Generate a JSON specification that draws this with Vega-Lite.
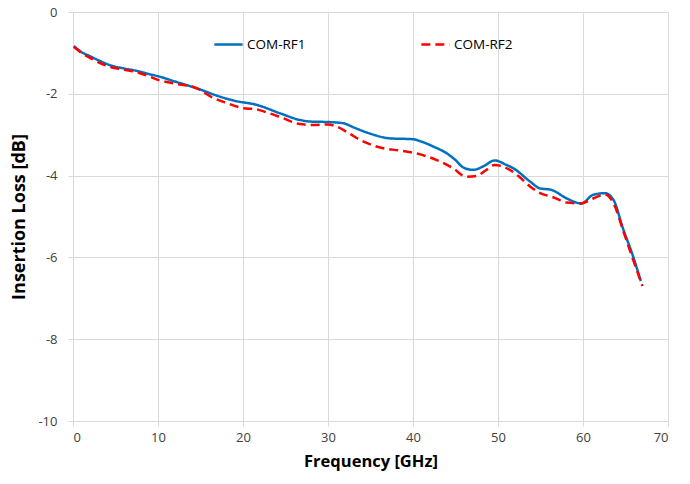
{
  "$schema": "https://vega.github.io/schema/vega-lite/v6.json",
  "width": 595,
  "height": 409,
  "autosize": {"type": "none"},
  "padding": {"left": 73, "top": 12, "right": 22, "bottom": 63},
  "background": "white",
  "config": {
    "view": {"stroke": null},
    "font": "Open Sans",
    "axis": {
      "gridColor": "#d9d9d9",
      "gridWidth": 1,
      "domainColor": "#d9d9d9",
      "ticks": true,
      "tickColor": "#d9d9d9",
      "tickSize": 5,
      "labelColor": "#404040",
      "labelFont": "Open Sans",
      "labelFontSize": 13,
      "titleFont": "Open Sans",
      "titleFontWeight": "bold",
      "titleColor": "#000000"
    }
  },
  "datasets": {
    "loss": [
      {"f": 0.1, "loss": -0.83, "s": "COM-RF1"},
      {"f": 1, "loss": -0.98, "s": "COM-RF1"},
      {"f": 2, "loss": -1.08, "s": "COM-RF1"},
      {"f": 3, "loss": -1.18, "s": "COM-RF1"},
      {"f": 4.35, "loss": -1.30, "s": "COM-RF1"},
      {"f": 6, "loss": -1.38, "s": "COM-RF1"},
      {"f": 7.5, "loss": -1.44, "s": "COM-RF1"},
      {"f": 9, "loss": -1.52, "s": "COM-RF1"},
      {"f": 10, "loss": -1.57, "s": "COM-RF1"},
      {"f": 12, "loss": -1.70, "s": "COM-RF1"},
      {"f": 14.9, "loss": -1.89, "s": "COM-RF1"},
      {"f": 17, "loss": -2.05, "s": "COM-RF1"},
      {"f": 19, "loss": -2.17, "s": "COM-RF1"},
      {"f": 21.6, "loss": -2.27, "s": "COM-RF1"},
      {"f": 24.4, "loss": -2.48, "s": "COM-RF1"},
      {"f": 26.7, "loss": -2.64, "s": "COM-RF1"},
      {"f": 28, "loss": -2.68, "s": "COM-RF1"},
      {"f": 30, "loss": -2.69, "s": "COM-RF1"},
      {"f": 31.8, "loss": -2.72, "s": "COM-RF1"},
      {"f": 33, "loss": -2.82, "s": "COM-RF1"},
      {"f": 34.9, "loss": -2.97, "s": "COM-RF1"},
      {"f": 37.3, "loss": -3.09, "s": "COM-RF1"},
      {"f": 40, "loss": -3.11, "s": "COM-RF1"},
      {"f": 41, "loss": -3.17, "s": "COM-RF1"},
      {"f": 42.4, "loss": -3.29, "s": "COM-RF1"},
      {"f": 44, "loss": -3.46, "s": "COM-RF1"},
      {"f": 45, "loss": -3.62, "s": "COM-RF1"},
      {"f": 45.9, "loss": -3.80, "s": "COM-RF1"},
      {"f": 47.1, "loss": -3.86, "s": "COM-RF1"},
      {"f": 48.3, "loss": -3.77, "s": "COM-RF1"},
      {"f": 49.6, "loss": -3.63, "s": "COM-RF1"},
      {"f": 51, "loss": -3.74, "s": "COM-RF1"},
      {"f": 51.8, "loss": -3.82, "s": "COM-RF1"},
      {"f": 53.8, "loss": -4.15, "s": "COM-RF1"},
      {"f": 54.9, "loss": -4.31, "s": "COM-RF1"},
      {"f": 56.3, "loss": -4.35, "s": "COM-RF1"},
      {"f": 58.1, "loss": -4.56, "s": "COM-RF1"},
      {"f": 59.8, "loss": -4.68, "s": "COM-RF1"},
      {"f": 61.2, "loss": -4.47, "s": "COM-RF1"},
      {"f": 62.6, "loss": -4.43, "s": "COM-RF1"},
      {"f": 63.6, "loss": -4.60, "s": "COM-RF1"},
      {"f": 64.7, "loss": -5.29, "s": "COM-RF1"},
      {"f": 65.9, "loss": -5.98, "s": "COM-RF1"},
      {"f": 66.8, "loss": -6.58, "s": "COM-RF1"},
      {"f": 0.1, "loss": -0.85, "s": "COM-RF2"},
      {"f": 1, "loss": -1.00, "s": "COM-RF2"},
      {"f": 2, "loss": -1.12, "s": "COM-RF2"},
      {"f": 3, "loss": -1.23, "s": "COM-RF2"},
      {"f": 4.35, "loss": -1.34, "s": "COM-RF2"},
      {"f": 6, "loss": -1.41, "s": "COM-RF2"},
      {"f": 7.5, "loss": -1.47, "s": "COM-RF2"},
      {"f": 9, "loss": -1.58, "s": "COM-RF2"},
      {"f": 10, "loss": -1.66, "s": "COM-RF2"},
      {"f": 12, "loss": -1.75, "s": "COM-RF2"},
      {"f": 14.5, "loss": -1.86, "s": "COM-RF2"},
      {"f": 16.5, "loss": -2.10, "s": "COM-RF2"},
      {"f": 18, "loss": -2.22, "s": "COM-RF2"},
      {"f": 20, "loss": -2.35, "s": "COM-RF2"},
      {"f": 21.6, "loss": -2.38, "s": "COM-RF2"},
      {"f": 23, "loss": -2.47, "s": "COM-RF2"},
      {"f": 24.4, "loss": -2.57, "s": "COM-RF2"},
      {"f": 26.7, "loss": -2.74, "s": "COM-RF2"},
      {"f": 28, "loss": -2.76, "s": "COM-RF2"},
      {"f": 30, "loss": -2.75, "s": "COM-RF2"},
      {"f": 31, "loss": -2.80, "s": "COM-RF2"},
      {"f": 32.5, "loss": -2.97, "s": "COM-RF2"},
      {"f": 33.8, "loss": -3.13, "s": "COM-RF2"},
      {"f": 35.7, "loss": -3.29, "s": "COM-RF2"},
      {"f": 38.5, "loss": -3.39, "s": "COM-RF2"},
      {"f": 40, "loss": -3.44, "s": "COM-RF2"},
      {"f": 42.8, "loss": -3.62, "s": "COM-RF2"},
      {"f": 44.7, "loss": -3.82, "s": "COM-RF2"},
      {"f": 46.3, "loss": -4.03, "s": "COM-RF2"},
      {"f": 47.5, "loss": -4.01, "s": "COM-RF2"},
      {"f": 48.5, "loss": -3.88, "s": "COM-RF2"},
      {"f": 49.6, "loss": -3.74, "s": "COM-RF2"},
      {"f": 51.4, "loss": -3.86, "s": "COM-RF2"},
      {"f": 52.5, "loss": -4.03, "s": "COM-RF2"},
      {"f": 53.8, "loss": -4.27, "s": "COM-RF2"},
      {"f": 54.9, "loss": -4.42, "s": "COM-RF2"},
      {"f": 56.5, "loss": -4.53, "s": "COM-RF2"},
      {"f": 58.1, "loss": -4.66, "s": "COM-RF2"},
      {"f": 59.8, "loss": -4.68, "s": "COM-RF2"},
      {"f": 61.2, "loss": -4.56, "s": "COM-RF2"},
      {"f": 62.6, "loss": -4.46, "s": "COM-RF2"},
      {"f": 63.6, "loss": -4.68, "s": "COM-RF2"},
      {"f": 64.7, "loss": -5.33, "s": "COM-RF2"},
      {"f": 65.9, "loss": -6.06, "s": "COM-RF2"},
      {"f": 67, "loss": -6.70, "s": "COM-RF2"}
    ]
  },
  "data": {"name": "loss"},
  "mark": {"type": "line", "interpolate": "monotone", "strokeWidth": 2.5, "clip": true},
  "encoding": {
    "x": {
      "field": "f",
      "type": "quantitative",
      "title": "Frequency [GHz]",
      "scale": {"domain": [0, 70], "nice": false},
      "axis": {"values": [0, 10, 20, 30, 40, 50, 60, 70], "labelPadding": 5, "titlePadding": 9, "titleFontSize": 16.5, "labelExpr": "'' + datum.value"}
    },
    "y": {
      "field": "loss",
      "type": "quantitative",
      "title": "Insertion Loss [dB]",
      "scale": {"domain": [-10, 0], "nice": false},
      "axis": {"values": [-10, -8, -6, -4, -2, 0], "labelPadding": 11, "titlePadding": 9, "titleFontSize": 18, "labelExpr": "'' + datum.value"}
    },
    "color": {
      "field": "s",
      "type": "nominal",
      "scale": {"domain": ["COM-RF1", "COM-RF2"], "range": ["#0070C0", "#FF0000"]},
      "legend": {
        "title": null,
        "orient": "none",
        "direction": "horizontal",
        "legendX": 140,
        "legendY": 17,
        "symbolType": "stroke",
        "symbolSize": 800,
        "symbolStrokeWidth": 2.5,
        "labelFontSize": 13.5,
        "labelColor": "#000000",
        "labelFont": "Open Sans",
        "labelOffset": 3,
        "columnPadding": 110
      }
    },
    "strokeDash": {
      "field": "s",
      "type": "nominal",
      "scale": {"domain": ["COM-RF1", "COM-RF2"], "range": [[1, 0], [9, 5]]},
      "legend": null
    }
  }
}
